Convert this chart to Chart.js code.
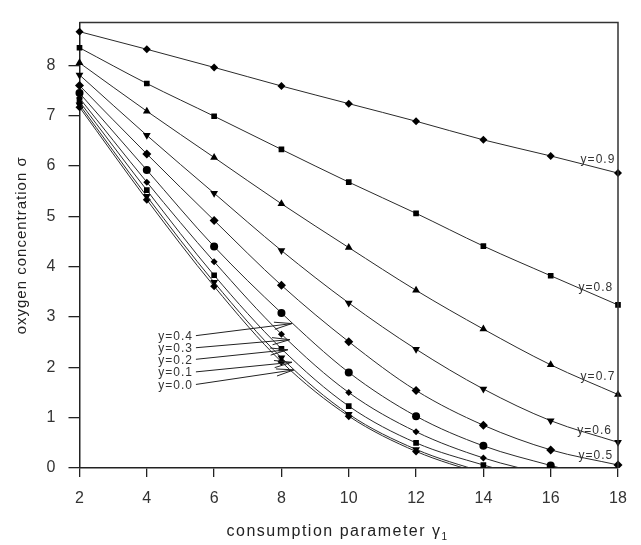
<!DOCTYPE html>
<html><head><meta charset="utf-8">
<script src="https://cdn.jsdelivr.net/npm/chart.js@4/dist/chart.umd.min.js"></script>
<style>html,body{margin:0;padding:0;background:#fff}</style>
</head><body>
<canvas id="c" width="641" height="545"></canvas>
<script>
// consumption parameter gamma_1 (x categories)
const xValues = [2, 4, 6, 8, 10, 12, 14, 16, 18];
// oxygen concentration sigma for each y level
const y09 = [8.67, 8.32, 7.96, 7.59, 7.24, 6.89, 6.52, 6.20, 5.86];
const y08 = [8.35, 7.64, 6.99, 6.33, 5.68, 5.06, 4.41, 3.82, 3.24];
const y07 = [8.05, 7.09, 6.17, 5.25, 4.38, 3.53, 2.76, 2.05, 1.46];
const y06 = [7.81, 6.61, 5.46, 4.32, 3.28, 2.36, 1.57, 0.94, 0.51];
const y05 = [7.60, 6.24, 4.92, 3.63, 2.51, 1.54, 0.85, 0.36, 0.06];
const y04 = [7.45, 5.92, 4.40, 3.08, 1.90, 1.03, 0.44, 0.05, -0.30];
const y03 = [7.35, 5.68, 4.10, 2.66, 1.50, 0.72, 0.20, -0.15, -0.50];
const y02 = [7.28, 5.52, 3.83, 2.37, 1.23, 0.50, 0.06, -0.30, -0.70];
const y01 = [7.22, 5.40, 3.69, 2.19, 1.07, 0.37, -0.08, -0.45, -0.80];
const y00 = [7.17, 5.33, 3.61, 2.11, 1.03, 0.33, -0.12, -0.50, -0.85];
const seriesNames = ['y=0.9','y=0.8','y=0.7','y=0.6','y=0.5','y=0.4','y=0.3','y=0.2','y=0.1','y=0.0'];
const seriesValues = [y09, y08, y07, y06, y05, y04, y03, y02, y01, y00];
const yTicks = [0,1,2,3,4,5,6,7,8];
const xTicks = [2,4,6,8,10,12,14,16,18];

const markerStyles = [
  {s:'rectRot', r:4, rot:0},
  {s:'rect', r:4, rot:0},
  {s:'triangle', r:4.5, rot:0},
  {s:'triangle', r:4.5, rot:180},
  {s:'rectRot', r:4.5, rot:0},
  {s:'circle', r:4, rot:0},
  {s:'rectRot', r:3.5, rot:0},
  {s:'rect', r:4, rot:0},
  {s:'triangle', r:4.5, rot:180},
  {s:'rectRot', r:4, rot:0}
];

const datasets = seriesNames.map((name, i) => ({
  label: name,
  data: xValues.map((x, j) => ({x: x, y: seriesValues[i][j]})),
  borderColor: '#2a2a2a',
  borderWidth: 1,
  backgroundColor: '#000',
  pointBackgroundColor: '#000',
  pointBorderColor: '#000',
  pointBorderWidth: 0,
  pointStyle: markerStyles[i].s,
  pointRadius: markerStyles[i].r,
  pointRotation: markerStyles[i].rot,
  cubicInterpolationMode: 'monotone',
  fill: false,
  clip: {left: 10, right: 10, top: 10, bottom: 0}
}));

// label annotations (data units)
const rightLabels = [
  {t:'y=0.9', x:17.92, y:6.12},
  {t:'y=0.8', x:17.86, y:3.59},
  {t:'y=0.7', x:17.92, y:1.81},
  {t:'y=0.6', x:17.82, y:0.75},
  {t:'y=0.5', x:17.86, y:0.25}
];
const leftLabels = [
  {t:'y=0.4', ly:2.61, ex:8.31, ey:2.87},
  {t:'y=0.3', ly:2.37, ex:8.25, ey:2.55},
  {t:'y=0.2', ly:2.14, ex:8.19, ey:2.35},
  {t:'y=0.1', ly:1.89, ex:8.31, ey:2.10},
  {t:'y=0.0', ly:1.64, ex:8.37, ey:1.95}
];

const decor = {
  id: 'decor',
  afterDraw(chart) {
    const ctx = chart.ctx, a = chart.chartArea;
    const xs = chart.scales.x, ys = chart.scales.y;
    ctx.save();
    // frame top & right
    ctx.strokeStyle = '#333';
    ctx.lineWidth = 1.5;
    ctx.beginPath();
    ctx.moveTo(a.left, a.top);
    ctx.lineTo(a.right, a.top);
    ctx.lineTo(a.right, a.bottom);
    ctx.stroke();
    // right labels
    ctx.fillStyle = '#333';
    ctx.font = '12px "Liberation Sans", Arial, sans-serif';
    ctx.letterSpacing = '1px';
    ctx.textAlign = 'right';
    ctx.textBaseline = 'middle';
    rightLabels.forEach(l => {
      ctx.fillText(l.t, xs.getPixelForValue(l.x), ys.getPixelForValue(l.y));
    });
    // left labels with arrows
    const lx = xs.getPixelForValue(5.37);
    leftLabels.forEach(l => {
      const py = ys.getPixelForValue(l.ly);
      ctx.fillText(l.t, lx, py);
      const sx = lx + 3, sy = py - 1;
      const ex = xs.getPixelForValue(l.ex), ey = ys.getPixelForValue(l.ey);
      ctx.strokeStyle = '#222';
      ctx.lineWidth = 1;
      ctx.beginPath();
      ctx.moveTo(sx, sy); ctx.lineTo(ex, ey);
      const ang = Math.atan2(ey - sy, ex - sx);
      const hl = 18, ha = 0.2;
      ctx.moveTo(ex, ey);
      ctx.lineTo(ex - hl * Math.cos(ang - ha), ey - hl * Math.sin(ang - ha));
      ctx.moveTo(ex, ey);
      ctx.lineTo(ex - hl * Math.cos(ang + ha), ey - hl * Math.sin(ang + ha));
      ctx.stroke();
    });
    // axis titles
    ctx.fillStyle = '#222';
    ctx.font = '15px "Liberation Sans", Arial, sans-serif';
    ctx.letterSpacing = '1px';
    ctx.textAlign = 'center';
    ctx.textBaseline = 'alphabetic';
    ctx.save();
    ctx.translate(26, (a.top + a.bottom) / 2);
    ctx.rotate(-Math.PI / 2);
    ctx.fillText('oxygen concentration \u03c3', 0, 0);
    ctx.restore();
    const xt = 'consumption parameter \u03b3';
    ctx.font = '16px "Liberation Sans", Arial, sans-serif';
    ctx.letterSpacing = '1.5px';
    ctx.textAlign = 'left';
    const w = ctx.measureText(xt).width;
    const x0 = 337 - (w + 6) / 2;
    ctx.fillText(xt, x0, 536);
    ctx.font = '10px "Liberation Sans", Arial, sans-serif';
    ctx.letterSpacing = '0px';
    ctx.fillText('1', x0 + w, 540);
    ctx.restore();
  }
};

new Chart(document.getElementById('c'), {
  type: 'line',
  data: { datasets },
  options: {
    responsive: false,
    animation: false,
    layout: { padding: { left: 0, right: 23, top: 9, bottom: 0 } },
    plugins: { legend: { display: false }, tooltip: { enabled: false } },
    scales: {
      x: {
        type: 'linear', min: 2, max: 18,
        afterBuildTicks: s => { s.ticks = xTicks.map(v => ({value: v})); },
        afterFit: s => { s.height = 77; },
        grid: { display: true, drawOnChartArea: false, drawTicks: true, tickLength: 9, color: '#222', lineWidth: 1.3 },
        border: { display: true, color: '#222', width: 1.5 },
        ticks: { color: '#333', font: { family: '"Liberation Sans", Arial, sans-serif', size: 16 }, padding: 12, maxRotation: 0 }
      },
      y: {
        type: 'linear', min: 0, max: 8.85,
        afterBuildTicks: s => { s.ticks = yTicks.map(v => ({value: v})); },
        afterFit: s => { s.width = 79.5; },
        grid: { display: true, drawOnChartArea: false, drawTicks: true, tickLength: 11, color: '#222', lineWidth: 1.3 },
        border: { display: true, color: '#222', width: 1.5 },
        ticks: { color: '#333', font: { family: '"Liberation Sans", Arial, sans-serif', size: 16 }, padding: 13 }
      }
    }
  },
  plugins: [decor]
});
</script>
</body></html>
